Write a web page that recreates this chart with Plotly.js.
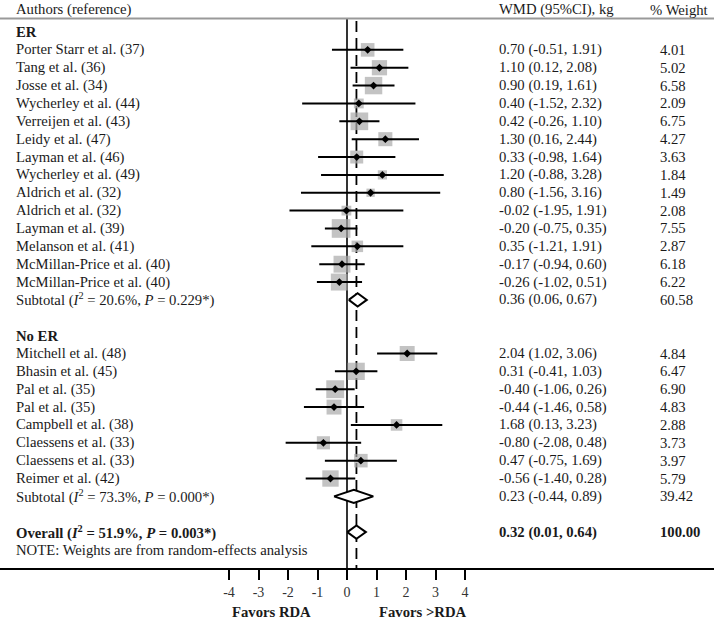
<!DOCTYPE html>
<html>
<head>
<meta charset="utf-8">
<script src="https://cdn.plot.ly/plotly-3.0.1.min.js"></script>
<style>html,body{margin:0;padding:0;background:#fff;}#chart{width:714px;height:620px;}</style>
</head>
<body>
<div id="chart"></div>
<script>
// ---- data ----
const erAuthors = ["Porter Starr et al. (37)","Tang et al. (36)","Josse et al. (34)","Wycherley et al. (44)","Verreijen et al. (43)","Leidy et al. (47)","Layman et al. (46)","Wycherley et al. (49)","Aldrich et al. (32)","Aldrich et al. (32)","Layman et al. (39)","Melanson et al. (41)","McMillan-Price et al. (40)","McMillan-Price et al. (40)"];
const erEst = [0.70,1.10,0.90,0.40,0.42,1.30,0.33,1.20,0.80,-0.02,-0.20,0.35,-0.17,-0.26];
const erLo  = [-0.51,0.12,0.19,-1.52,-0.26,0.16,-0.98,-0.88,-1.56,-1.95,-0.75,-1.21,-0.94,-1.02];
const erHi  = [1.91,2.08,1.61,2.32,1.10,2.44,1.64,3.28,3.16,1.91,0.35,1.91,0.60,0.51];
const erW   = [4.01,5.02,6.58,2.09,6.75,4.27,3.63,1.84,1.49,2.08,7.55,2.87,6.18,6.22];

const noAuthors = ["Mitchell et al. (48)","Bhasin et al. (45)","Pal et al. (35)","Pal et al. (35)","Campbell et al. (38)","Claessens et al. (33)","Claessens et al. (33)","Reimer et al. (42)"];
const noEst = [2.04,0.31,-0.40,-0.44,1.68,-0.80,0.47,-0.56];
const noLo  = [1.02,-0.41,-1.06,-1.46,0.13,-2.08,-0.75,-1.40];
const noHi  = [3.06,1.03,0.26,0.58,3.23,0.48,1.69,0.28];
const noW   = [4.84,6.47,6.90,4.83,2.88,3.73,3.97,5.79];

const groupNames = ["ER","No ER"];
const subEst = [0.36,0.23];
const subLo  = [0.06,-0.44];
const subHi  = [0.67,0.89];
const subW   = [60.58,39.42];
const subI2  = ["20.6","73.3"];
const subP   = ["0.229","0.000"];

const overall = {est:0.32, lo:0.01, hi:0.64, w:100.00, i2:"51.9", p:"0.003"};

const tickVals = [-4,-3,-2,-1,0,1,2,3,4];
const headers = ["Authors (reference)","WMD (95%CI), kg","% Weight"];
const favorLabels = ["Favors RDA","Favors >RDA"];
const noteText = "NOTE: Weights are from random-effects analysis";

// ---- layout of rows ----
const groups = [
  {name:groupNames[0], a:erAuthors, e:erEst, l:erLo, h:erHi, w:erW, start:0},
  {name:groupNames[1], a:noAuthors, e:noEst, l:noLo, h:noHi, w:noW, start:17}
];
const FONT = "Liberation Serif, Times New Roman, serif";
const FS = 14.7;
const TXT = "#1a1a1a";
const X_LEFT = 14/714, X_WMD = 497/714, X_WT = 658/714;
const fmt = v => v.toFixed(2);
const ciStr = (e,l,h) => fmt(e) + " (" + fmt(l) + ", " + fmt(h) + ")";

const ann = [];
function txt(x, y, text, opts) {
  ann.push(Object.assign({xref:'paper', yref:'y', x:x, y:y, text:text, showarrow:false,
    xanchor:'left', yanchor:'middle', font:{family:FONT, size:FS, color:TXT}}, opts||{}));
}

const boxX=[], boxY=[], boxS=[];
const ciX=[], ciY=[];
const ptX=[], ptY=[];
const dmX=[], dmY=[];
const H = 0.37;
function diamond(r, e, l, h) {
  dmX.push(l, e, h, e, l, null);
  dmY.push(r, r-H, r, r+H, r, null);
}

groups.forEach((g, gi) => {
  txt(X_LEFT, g.start, "<b>" + g.name + "</b>");
  g.a.forEach((name, i) => {
    const r = g.start + 1 + i;
    txt(X_LEFT, r, name);
    txt(X_WMD, r, ciStr(g.e[i], g.l[i], g.h[i]));
    txt(X_WT, r, fmt(g.w[i]));
    boxX.push(g.e[i]); boxY.push(r); boxS.push(6.8*Math.sqrt(g.w[i]));
    ciX.push(g.l[i], g.h[i], null); ciY.push(r, r, null);
    ptX.push(g.e[i]); ptY.push(r);
  });
  const rs = g.start + 1 + g.a.length;
  txt(X_LEFT, rs, "Subtotal (<i>I</i><sup>2</sup> = " + subI2[gi] + "%, <i>P</i> = " + subP[gi] + "*)");
  txt(X_WMD, rs, ciStr(subEst[gi], subLo[gi], subHi[gi]));
  txt(X_WT, rs, fmt(subW[gi]));
  diamond(rs, subEst[gi], subLo[gi], subHi[gi]);
});
const rOv = 28;
txt(X_LEFT, rOv, "<b>Overall (<i>I</i><sup>2</sup> = " + overall.i2 + "%, <i>P</i> = " + overall.p + "*)</b>");
txt(X_WMD, rOv, "<b>" + ciStr(overall.est, overall.lo, overall.hi) + "</b>");
txt(X_WT, rOv, "<b>" + fmt(overall.w) + "</b>");
diamond(rOv, overall.est, overall.lo, overall.hi);
txt(X_LEFT, 29, noteText);

// headers
txt(X_LEFT, -1.25, headers[0]);
txt(X_WMD, -1.25, headers[1]);
txt(710/714, -1.25, headers[2], {xanchor:'right'});

// favors labels
ann.push({xref:'x', yref:'paper', x:-2.55, y:-0.078, text:"<b>"+favorLabels[0]+"</b>", showarrow:false,
  xanchor:'center', yanchor:'middle', font:{family:FONT, size:FS, color:TXT}});
ann.push({xref:'x', yref:'paper', x:2.55, y:-0.078, text:"<b>"+favorLabels[1].replace(">","&gt;")+"</b>", showarrow:false,
  xanchor:'center', yanchor:'middle', font:{family:FONT, size:FS, color:TXT}});

const traces = [
  {x:[0,0], y:[-0.73, 30.1], mode:'lines', line:{color:'#000', width:1.6}, hoverinfo:'skip'},
  {x:[overall.est, overall.est], y:[-0.62, 30.1], mode:'lines', line:{color:'#000', width:1.8, dash:'11px,6px'}, hoverinfo:'skip'},
  {x:boxX, y:boxY, mode:'markers', marker:{symbol:'square', size:boxS, color:'#aaaaaa', line:{width:0}}, hoverinfo:'skip'},
  {x:ciX, y:ciY, mode:'lines', line:{color:'#000', width:2}, hoverinfo:'skip'},
  {x:ptX, y:ptY, mode:'markers', marker:{symbol:'diamond', size:6, color:'#000'}, hoverinfo:'skip'},
  {x:dmX, y:dmY, mode:'lines', line:{color:'#000', width:2}, fill:'toself', fillcolor:'#fff', hoverinfo:'skip'}
];

const x0 = -347/29.5, x1 = 367/29.5;
const layout = {
  width:714, height:620,
  margin:{l:0, r:0, t:0, b:52, pad:0},
  paper_bgcolor:'#fff', plot_bgcolor:'#fff',
  showlegend:false,
  xaxis:{range:[x0, x1], tickvals:tickVals, ticktext:tickVals.map(String), ticks:'outside', ticklen:10, tickwidth:2,
    tickcolor:'#000', showline:true, linewidth:2, linecolor:'#000', showgrid:false, zeroline:false,
    tickfont:{family:FONT, size:14, color:'#333'}, automargin:false, fixedrange:true},
  yaxis:{range:[30.01, -1.792], showline:false, showgrid:false, zeroline:false, showticklabels:false, ticks:'',
    automargin:false, fixedrange:true},
  shapes:[{type:'line', xref:'paper', yref:'y', x0:0, x1:1, y0:-0.76, y1:-0.76, line:{color:'#999', width:2}}],
  annotations:ann
};
Plotly.newPlot('chart', traces, layout, {displayModeBar:false, staticPlot:true});
</script>
</body>
</html>
